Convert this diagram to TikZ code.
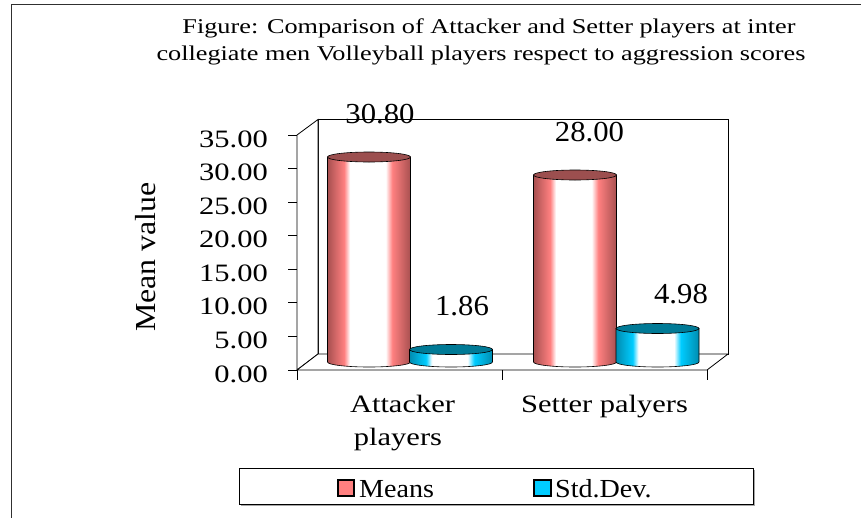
\documentclass[tikz,border=0pt]{standalone}
\usepackage{fontspec}
\setmainfont{Liberation Serif}
\definecolor{rmain}{HTML}{FF8080}
\definecolor{rdark}{HTML}{A85050}
\definecolor{rtop}{HTML}{9C4F4F}
\definecolor{bmain}{HTML}{00CCFF}
\definecolor{bdark}{HTML}{008CB0}
\definecolor{btop}{HTML}{007A96}
\definecolor{frameline}{HTML}{303030}
% side shading of the cylinders (colour varies along x; 25bp..75bp covers the body)
\pgfdeclarehorizontalshading{redcyl}{100bp}{color(0bp)=(rdark); color(25bp)=(rdark); color(35bp)=(rmain); color(38.5bp)=(white); color(60bp)=(white); color(64bp)=(rmain); color(75bp)=(rdark); color(100bp)=(rdark)}
\pgfdeclarehorizontalshading{bluecyl}{100bp}{color(0bp)=(bdark); color(25bp)=(bdark); color(35bp)=(bmain); color(38.5bp)=(white); color(60bp)=(white); color(64bp)=(bmain); color(75bp)=(bdark); color(100bp)=(bdark)}
% a cylinder: centre x, top y, side shading, top colour (base at y=362)
\newcommand\cylbar[4]{%
  \shadedraw[shading=#3, draw=black, line width=0.6pt]
    (#1-41.5,#2) -- (#1-41.5,362)
    arc[start angle=180, end angle=360, x radius=41.5pt, y radius=5pt]
    -- (#1+41.5,#2) -- cycle;
  \draw[line width=0.6pt, fill=#4] (#1,#2) ellipse[x radius=41.5pt, y radius=5pt];}
\newcommand\wtxt[2]{\scalebox{#1}[1]{#2}}
\tikzset{
  axis/.style={line width=0.8pt, black},
  ticklab/.style={anchor=base east, inner sep=0pt, font=\fontsize{25}{25}\selectfont},
  vallab/.style={anchor=base, inner sep=0pt, font=\fontsize{29}{29}\selectfont},
  catlab/.style={anchor=base, inner sep=0pt, font=\fontsize{25}{25}\selectfont},
  titlelab/.style={anchor=base, inner sep=0pt, font=\fontsize{21}{21}\selectfont},
  leglab/.style={anchor=base west, inner sep=0pt, font=\fontsize{26}{26}\selectfont},
  legmark/.style={draw=black, line width=1.5pt}
}
\begin{document}
\begin{tikzpicture}[x=1pt, y=-1pt]
\useasboundingbox (0,0) rectangle (861,517);
\fill[white] (0,0) rectangle (861,517);
% outer frame
\draw[frameline, line width=1pt] (11,520) -- (11,4) -- (865,4);
% title
\node[titlelab] (t1) at (489,33) {\wtxt{1.25}{Figure: Comparison of Attacker and Setter players at inter}};
\node[titlelab] (t2) at (481,60) {\wtxt{1.25}{collegiate men Volleyball players respect to aggression scores}};
% walls and floor
\draw[axis, fill=white] (318,119.5) rectangle (728,354);
\draw[axis, fill=white] (297,135) -- (318,119.5) -- (318,354) -- (297,370) -- cycle;
\draw[axis, fill=white] (297,370) -- (318,354) -- (728,354) -- (707,370) -- cycle;
% value ticks and labels
\foreach \v [count=\i from 0] in {0.00,5.00,10.00,15.00,20.00,25.00,30.00,35.00} {
  \draw[axis] (288,370-33.57*\i) -- (297,370-33.57*\i);
  \node[ticklab] (yl\i) at (268,382-33.57*\i) {\wtxt{1.22}{\v}};
}
% category ticks
\foreach \x in {297,502,707} \draw[axis] (\x,370) -- (\x,380);
% cylinders
\cylbar{369}{157}{redcyl}{rtop}
\cylbar{451}{349.5}{bluecyl}{btop}
\cylbar{575}{175}{redcyl}{rtop}
\cylbar{657.5}{328.5}{bluecyl}{btop}
% value labels
\node[vallab] (v1) at (380,123) {\wtxt{1.06}{30.80}};
\node[vallab] (v2) at (462,315) {\wtxt{1.06}{1.86}};
\node[vallab] (v3) at (589.5,141) {\wtxt{1.06}{28.00}};
\node[vallab] (v4) at (681,303) {\wtxt{1.06}{4.98}};
% axis title
\node[rotate=90, inner sep=0pt, font=\fontsize{29}{29}\selectfont] (ytitle) at (146,257) {\wtxt{1.1}{Mean value}};
% category labels
\node[catlab] (c1a) at (402.5,412) {\wtxt{1.22}{Attacker}};
\node[catlab] (c1b) at (398,445) {\wtxt{1.22}{players}};
\node[catlab] (c2) at (604.5,412) {\wtxt{1.22}{Setter palyers}};
% legend
\fill[gray!70] (241,470) rectangle (755,506);
\draw[black, line width=0.8pt, fill=white] (239,468) rectangle (753,504);
\draw[legmark, fill=rmain] (338,480) rectangle (354,496);
\node[leglab] (l1) at (359,497) {\wtxt{1.08}{Means}};
\draw[legmark, fill=bmain] (534,480) rectangle (551,496);
\node[leglab] (l2) at (555,497) {\wtxt{1.08}{Std.Dev.}};
\end{tikzpicture}
\end{document}
